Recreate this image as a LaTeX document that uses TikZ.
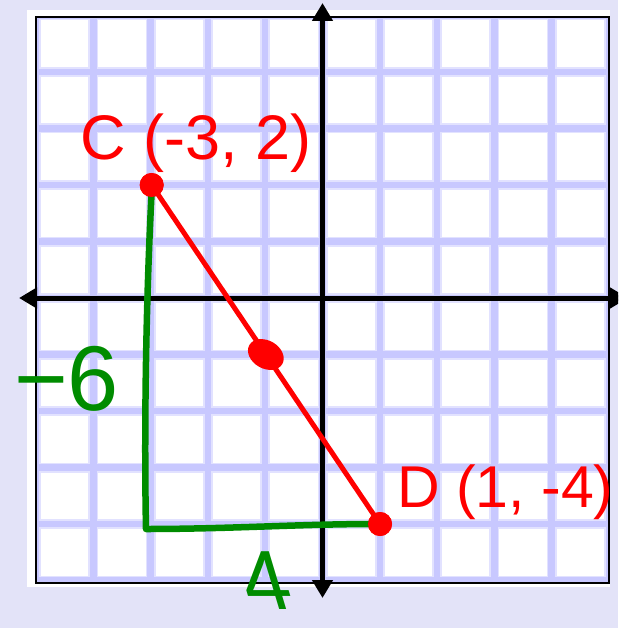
\documentclass[tikz,border=0pt]{standalone}
\usepackage{fontspec}
\setmainfont{Liberation Sans}
\usetikzlibrary{arrows.meta,shapes.geometric,calc}
\definecolor{bg}{RGB}{227,227,248}
\definecolor{gridc}{RGB}{200,200,255}
\definecolor{gridsoft}{RGB}{226,226,255}
\definecolor{pred}{RGB}{255,0,0}
\definecolor{pgreen}{RGB}{0,140,0}
\tikzset{
  softline/.style={gridsoft, line width=10pt},
  coreline/.style={gridc, line width=6.5pt},
  axisline/.style={black, line width=5pt, {Triangle[length=18pt,width=20pt]}-{Triangle[length=18pt,width=20pt]}},
  dot/.style={circle, fill=pred, minimum size=24pt, inner sep=0pt},
  rline/.style={pred, line width=5pt},
  gline/.style={pgreen, line width=6.5pt, line cap=round, line join=round},
  lbl/.style={text=pred, inner sep=0pt},
  glbl/.style={text=pgreen, inner sep=0pt}
}
\begin{document}
\begin{tikzpicture}[x=1pt,y=-1pt]
\useasboundingbox (0,0) rectangle (618,628);
\clip (0,0) rectangle (618,628);
\fill[bg] (0,0) rectangle (618,628);
\fill[white] (27,10) rectangle (610,587);
% grid
\begin{scope}
  \clip (35.5,17.5) rectangle (609,583);
  \foreach \k in {-5,...,5} {
    \draw[softline] ({322.5+57.3*\k},0) -- ++(0,628);
    \draw[softline] (0,{298-56.5*\k}) -- ++(618,0);
  }
  \foreach \k in {-5,...,5} {
    \draw[coreline] ({322.5+57.3*\k},0) -- ++(0,628);
    \draw[coreline] (0,{298-56.5*\k}) -- ++(618,0);
  }
\end{scope}
\draw[black, line width=2pt] (35.5,17.5) rectangle (609,583);
% axes
\coordinate (ytop) at (322.5,3);
\coordinate (ybot) at (322.5,598);
\coordinate (xleft) at (19,298);
\coordinate (xright) at (628,298);
\draw[axisline] (ybot) -- (ytop);
\draw[axisline] (xleft) -- (xright);
% points
\node[dot] (C) at (151.7,185) {};
\node[dot] (D) at (380,524) {};
% green legs
\coordinate (G) at (146,529);
\draw[gline] ([yshift=-6pt]C.center) .. controls (146,300) and (144,430) .. (G)
  .. controls (230,529) and (300,524) .. ([xshift=-3pt]D.center);
% red segment
\draw[rline] (C.center) -- (D.center);
\node[dot] at (C.center) {};
\node[dot] at (D.center) {};
\node[ellipse, fill=pred, minimum width=38pt, minimum height=28pt, inner sep=0pt, rotate=-30] (M) at ($(C.center)!0.5!(D.center)$) {};
% labels
\node[lbl, anchor=base west, font=\fontsize{63}{63}\selectfont] (Ct) at (80,160) {C (-3, 2)};
\node[lbl, anchor=base west, font=\fontsize{59}{59}\selectfont] (Dt) at (397,507) {D (1, -4)};
\node[glbl, anchor=base west, font=\fontsize{92}{92}\selectfont] (six) at (14,410) {\char"2212 6};
\node[glbl, anchor=base, font=\fontsize{84}{84}\selectfont, xslant=-0.3] (four) at (274,609) {4};
\end{tikzpicture}
\end{document}
